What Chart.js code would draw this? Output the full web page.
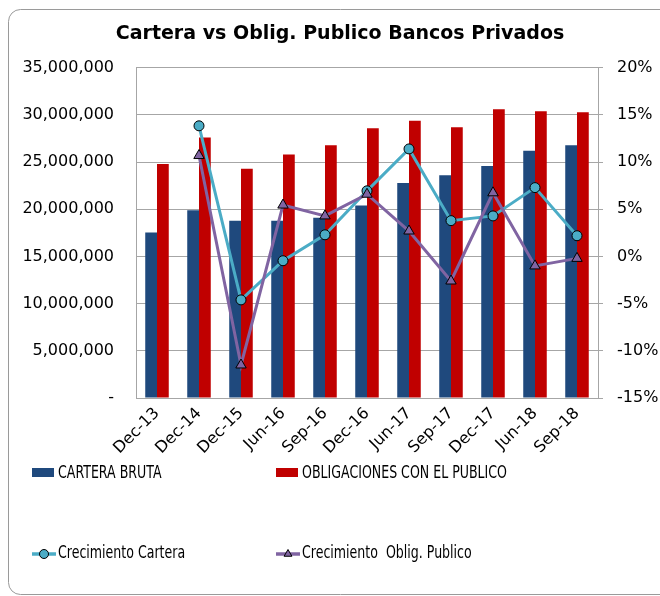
<!DOCTYPE html>
<html>
<head>
<meta charset="utf-8">
<script src="https://cdn.jsdelivr.net/npm/chart.js@4.4.1/dist/chart.umd.min.js"></script>
<style>
  body { margin: 0; background: #fff; }
  canvas { display: block; }
</style>
</head>
<body>
<canvas id="mycanvas" width="660" height="596"></canvas>
<script>
var categories = ['Dec-13', 'Dec-14', 'Dec-15', 'Jun-16', 'Sep-16', 'Dec-16', 'Jun-17', 'Sep-17', 'Dec-17', 'Jun-18', 'Sep-18'];
var carteraBruta = [17530000, 19900000, 18800000, 18800000, 19100000, 20400000, 22800000, 23600000, 24600000, 26200000, 26800000];
var obligaciones = [24800000, 27600000, 24300000, 25800000, 26800000, 28600000, 29400000, 28700000, 30600000, 30400000, 30300000];
var crecCartera = [null, 13.85, -4.6, -0.45, 2.3, 6.96, 11.4, 3.8, 4.3, 7.3, 2.2];
var crecOblig = [null, 10.7, -11.5, 5.45, 4.3, 6.6, 2.7, -2.6, 6.75, -1.0, -0.2];

var gridColor = '#a6a6a6';
var font = 'DejaVu Sans';

// frame around the whole chart
var framePlugin = {
  id: 'frame',
  beforeDraw: function(chart) {
    var ctx = chart.ctx;
    ctx.save();
    ctx.fillStyle = '#fff';
    ctx.fillRect(0, 0, chart.width, chart.height);
    ctx.strokeStyle = '#9a9a9a';
    ctx.lineWidth = 1;
    ctx.beginPath();
    ctx.roundRect(8.5, 9.5, 664, 585, 12);
    ctx.stroke();
    ctx.restore();
  }
};

// legend in two columns, under the x labels
var legendPlugin = {
  id: 'legend2col',
  afterDraw: function(chart) {
    var ctx = chart.ctx;
    var cols = [32, 276];
    var rows = [473, 553];
    ctx.save();
    chart.data.datasets.forEach(function(ds, i) {
      var x = cols[i % 2];
      var y = rows[Math.floor(i / 2)];
      if (ds.type === 'line') {
        ctx.strokeStyle = ds.borderColor;
        ctx.lineWidth = 3.5;
        ctx.beginPath();
        ctx.moveTo(x, y + 1);
        ctx.lineTo(x + 24, y + 1);
        ctx.stroke();
        ctx.fillStyle = ds.pointBackgroundColor;
        ctx.strokeStyle = '#000';
        ctx.lineWidth = 1;
        Chart.helpers.drawPoint(ctx, {pointStyle: ds.pointStyle, radius: 4.5, borderWidth: 1, rotation: 0}, x + 12, y + 1);
      } else {
        ctx.fillStyle = ds.backgroundColor;
        ctx.fillRect(x, y - 5, 22, 9);
      }
      ctx.save();
      ctx.translate(x + 26, y + 1);
      ctx.scale(0.74, 1);
      ctx.fillStyle = '#000';
      ctx.font = '17px "' + font + '"';
      ctx.textBaseline = 'middle';
      ctx.fillText(ds.label, 0, 0);
      ctx.restore();
    });
    ctx.restore();
  }
};

var chartdata = {
  labels: categories,
  datasets: [
    {
      type: 'bar',
      label: 'CARTERA BRUTA',
      data: carteraBruta,
      backgroundColor: '#1f497d',
      yAxisID: 'y',
      order: 2,
      categoryPercentage: 0.56,
      barPercentage: 1
    },
    {
      type: 'bar',
      label: 'OBLIGACIONES CON EL PUBLICO',
      data: obligaciones,
      backgroundColor: '#c00000',
      yAxisID: 'y',
      order: 2,
      categoryPercentage: 0.56,
      barPercentage: 1
    },
    {
      type: 'line',
      label: 'Crecimiento Cartera',
      data: crecCartera,
      borderColor: '#4bacc6',
      borderWidth: 3,
      pointStyle: 'circle',
      pointRadius: 5,
      pointBackgroundColor: '#4bacc6',
      pointBorderColor: '#000',
      pointBorderWidth: 1,
      tension: 0,
      yAxisID: 'y2',
      order: 1
    },
    {
      type: 'line',
      label: 'Crecimiento  Oblig. Publico',
      data: crecOblig,
      borderColor: '#8064a2',
      borderWidth: 3,
      pointStyle: 'triangle',
      pointRadius: 6,
      pointBackgroundColor: '#8064a2',
      pointBorderColor: '#000',
      pointBorderWidth: 1,
      tension: 0,
      yAxisID: 'y2',
      order: 0
    }
  ]
};

var ctx = document.getElementById('mycanvas');
var chart = new Chart(ctx, {
  data: chartdata,
  plugins: [framePlugin, legendPlugin],
  options: {
    responsive: false,
    animation: false,
    layout: { padding: { left: 20, right: 0, top: 0, bottom: 0 } },
    plugins: {
      legend: { display: false },
      tooltip: { enabled: false },
      title: {
        display: true,
        text: 'Cartera vs Oblig. Publico Bancos Privados',
        color: '#000',
        font: { family: font, size: 19, weight: 'bold' },
        padding: { top: 23, bottom: 22 }
      }
    },
    scales: {
      x: {
        grid: { display: false, drawTicks: false },
        border: { color: gridColor },
        ticks: {
          color: '#000',
          font: { family: font, size: 16 },
          maxRotation: 45,
          minRotation: 45,
          padding: 6
        },
        afterFit: function(scale) { scale.height = 198; }
      },
      y: {
        position: 'left',
        min: 0,
        max: 35000000,
        grid: { color: gridColor, drawTicks: false },
        border: { color: gridColor },
        ticks: {
          stepSize: 5000000,
          color: '#000',
          padding: 22,
          font: { family: font, size: 16 },
          callback: function(v) { return v === 0 ? '-' : v.toLocaleString('en-US'); }
        },
        afterFit: function(scale) { scale.width = 116; }
      },
      y2: {
        position: 'right',
        min: -15,
        max: 20,
        grid: { drawOnChartArea: false, color: gridColor, tickLength: 5 },
        border: { color: gridColor },
        ticks: {
          stepSize: 5,
          color: '#000',
          padding: 14,
          font: { family: font, size: 16 },
          callback: function(v) { return v + '%'; }
        },
        afterFit: function(scale) { scale.width = 62; }
      }
    }
  }
});
</script>
</body>
</html>
